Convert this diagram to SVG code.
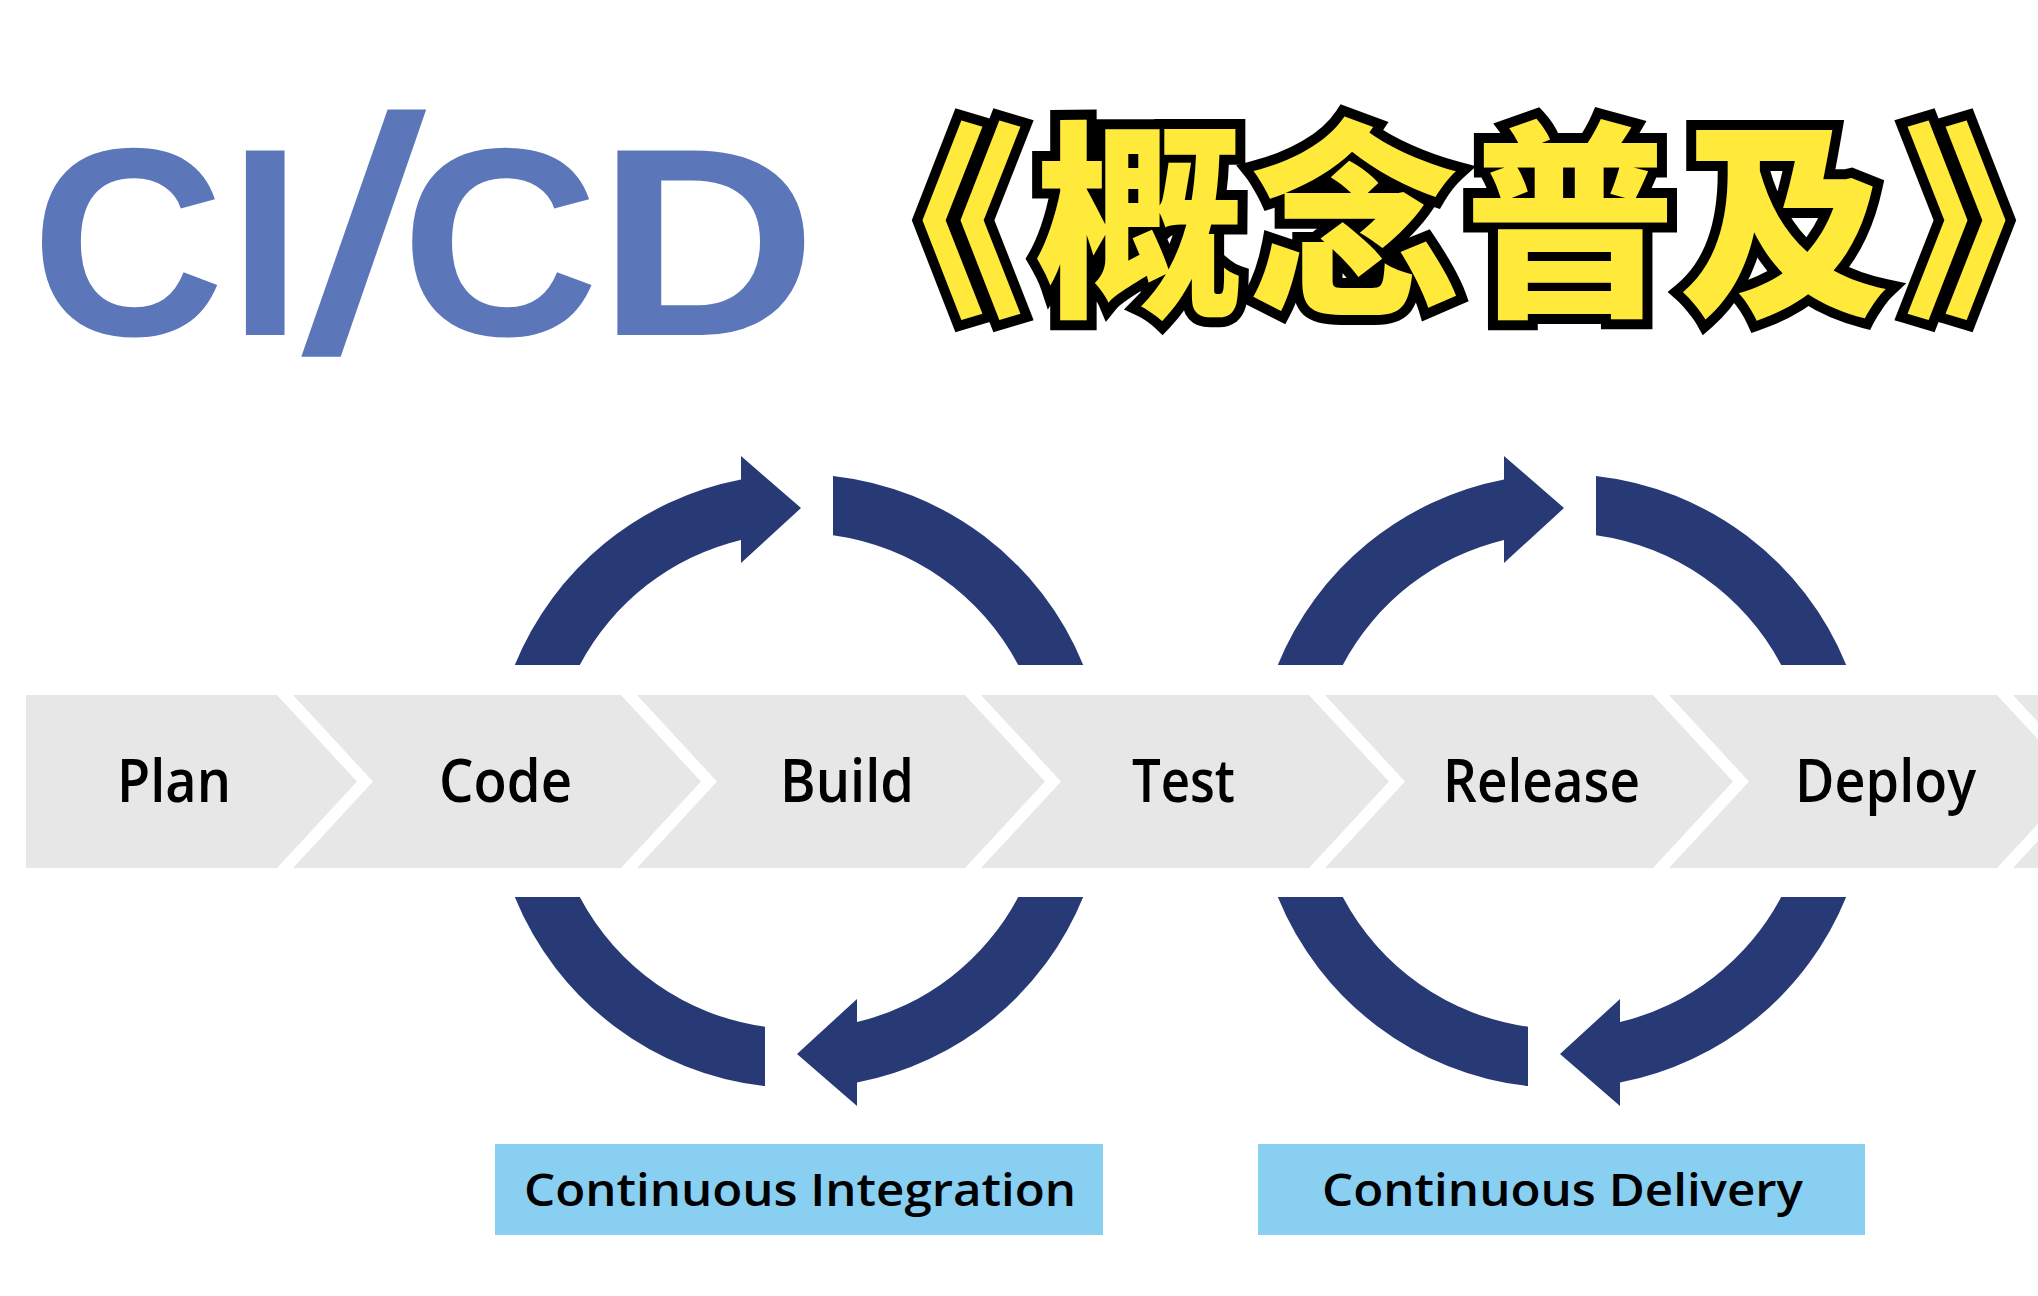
<svg xmlns="http://www.w3.org/2000/svg" width="2038" height="1296" viewBox="0 0 2038 1296">
<style>
.logo{font-family:"Liberation Sans",Arial,sans-serif;font-weight:700;fill:#5b76b9}
.title{font-family:"Noto Sans CJK SC","Noto Sans CJK JP",sans-serif;font-weight:900;font-size:210px;fill:#ffe93b;stroke:#000;stroke-width:20;paint-order:stroke;stroke-linejoin:miter}
.seg{fill:#e7e7e7}
.stage{font-family:"Open Sans","Liberation Sans",sans-serif;font-weight:600;font-size:60px;fill:#000;text-anchor:start}
.arc{fill:#273a75}
.lbox{fill:#88cff2}
.ltext{font-family:"Open Sans","Liberation Sans",sans-serif;font-weight:600;font-size:46px;fill:#000}
</style>
<defs>
<path id="arcArrow" d="M-284.2,-116 A307,307 0 0 1 -58,-301.5 L-58,-325 L2,-273 L-58,-218 L-58,-241.1 A248,248 0 0 0 -219.2,-116 Z"/>
<path id="arcPlain" d="M34,-305.1 A307,307 0 0 1 284.2,-116 L219.2,-116 A248,248 0 0 0 34,-245.7 Z"/>
</defs>
<rect width="2038" height="1296" fill="#fff"/>

<g id="logo">
<text class="logo" x="31" y="335" font-size="268">C</text>
<text class="logo" x="228" y="335" font-size="268">I</text>
<text class="logo" x="298" y="350" font-size="332" transform="translate(318,357) skewX(-9) translate(-318,-357)">/</text>
<text class="logo" x="401" y="335" font-size="268" textLength="198" lengthAdjust="spacingAndGlyphs">C</text>
<text class="logo" x="597" y="335" font-size="268" textLength="220" lengthAdjust="spacingAndGlyphs">D</text>
</g>

<g id="title">
<text class="title" x="920 1140 1355 1570 1784 2008" y="300" text-anchor="middle">《概念普及》</text>
</g>

<g id="stage-plan">
<polygon class="seg" points="26,695 277,695 357,781.5 277,868 26,868"/>
<text class="stage" x="117" y="802" textLength="114" lengthAdjust="spacingAndGlyphs">Plan</text>
</g>
<g id="stage-code">
<polygon class="seg" points="293,695 621,695 701,781.5 621,868 293,868 373,781.5"/>
<text class="stage" x="439" y="802" textLength="133" lengthAdjust="spacingAndGlyphs">Code</text>
</g>
<g id="stage-build">
<polygon class="seg" points="637,695 965,695 1045,781.5 965,868 637,868 717,781.5"/>
<text class="stage" x="780" y="802" textLength="134" lengthAdjust="spacingAndGlyphs">Build</text>
</g>
<g id="stage-test">
<polygon class="seg" points="981,695 1309,695 1389,781.5 1309,868 981,868 1061,781.5"/>
<text class="stage" x="1132" y="802" textLength="103" lengthAdjust="spacingAndGlyphs">Test</text>
</g>
<g id="stage-release">
<polygon class="seg" points="1325,695 1653,695 1733,781.5 1653,868 1325,868 1405,781.5"/>
<text class="stage" x="1443" y="802" textLength="197" lengthAdjust="spacingAndGlyphs">Release</text>
</g>
<g id="stage-deploy">
<polygon class="seg" points="1669,695 1997,695 2077,781.5 1997,868 1669,868 1749,781.5"/>
<text class="stage" x="1795" y="802" textLength="181" lengthAdjust="spacingAndGlyphs">Deploy</text>
</g>
<g id="stage-next">
<polygon class="seg" points="2013,695 2341,695 2421,781.5 2341,868 2013,868 2093,781.5"/>
</g>

<g id="connectors">
<g transform="translate(799,781)">
<use href="#arcArrow" class="arc"/>
<use href="#arcPlain" class="arc"/>
<use href="#arcArrow" class="arc" transform="rotate(180)"/>
<use href="#arcPlain" class="arc" transform="rotate(180)"/>
</g>
<g transform="translate(1562,781)">
<use href="#arcArrow" class="arc"/>
<use href="#arcPlain" class="arc"/>
<use href="#arcArrow" class="arc" transform="rotate(180)"/>
<use href="#arcPlain" class="arc" transform="rotate(180)"/>
</g>
</g>

<g id="label-ci">
<rect class="lbox" x="495" y="1144" width="608" height="91"/>
<text class="ltext" x="524" y="1206" textLength="552" lengthAdjust="spacingAndGlyphs">Continuous Integration</text>
</g>
<g id="label-cd">
<rect class="lbox" x="1258" y="1144" width="607" height="91"/>
<text class="ltext" x="1322" y="1206" textLength="481" lengthAdjust="spacingAndGlyphs">Continuous Delivery</text>
</g>
</svg>
